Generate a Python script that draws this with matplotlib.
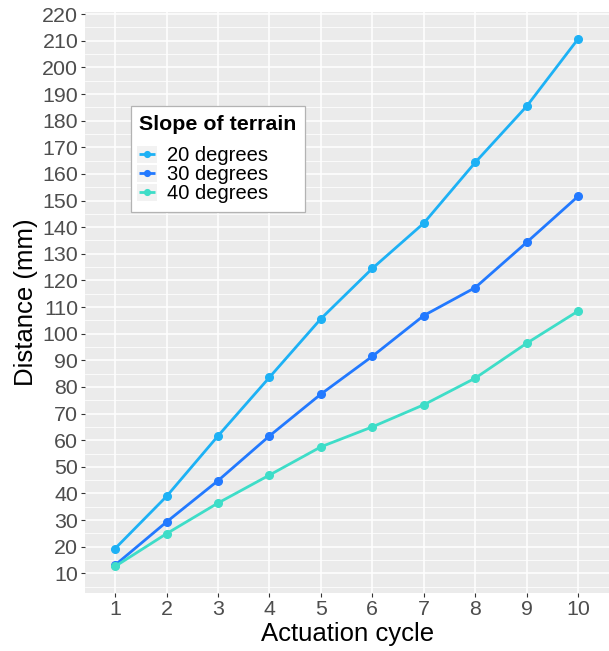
import numpy as np
import matplotlib.pyplot as plt
from matplotlib.patches import Rectangle
from matplotlib.legend_handler import HandlerLine2D

plt.rcParams['font.family'] = ['Liberation Sans', 'DejaVu Sans']

# data
cycles = [1, 2, 3, 4, 5, 6, 7, 8, 9, 10]
deg20 = [19.3, 38.9, 61.6, 83.6, 105.6, 124.5, 141.5, 164.3, 185.4, 210.7]
deg30 = [13.1, 29.3, 44.8, 61.6, 77.3, 91.5, 106.8, 117.3, 134.3, 151.6]
deg40 = [12.6, 24.9, 36.4, 46.9, 57.5, 65.0, 73.3, 83.3, 96.4, 108.5]
series_names = ["20 degrees", "30 degrees", "40 degrees"]
series_colors = ["#1DB1F5", "#2279FF", "#3EDDC8"]
y_ticks = list(range(10, 230, 10))


class KeyWithBackground(HandlerLine2D):
    """ legend key drawn on a light grey square, like ggplot """
    def create_artists(self, legend, orig_handle, xdescent, ydescent,
                       width, height, fontsize, trans):
        arts = super().create_artists(legend, orig_handle, xdescent, ydescent,
                                      width, height, fontsize, trans)
        bg = Rectangle((-xdescent - 1.5, -ydescent - 1.0), width + 3.0, height + 2.0,
                       facecolor="#F2F2F2", edgecolor="none", transform=trans)
        return [bg] + list(arts)


fig = plt.figure(figsize=(6.09, 6.51), dpi=100)
ax = fig.add_axes([0.140, 0.0886, 0.860, 0.893])
ax.set_facecolor("#EBEBEB")
for s in ax.spines.values():
    s.set_visible(False)

for vals, name, col in zip([deg20, deg30, deg40], series_names, series_colors):
    ax.plot(cycles, vals, color=col, lw=2, marker="o", ms=5.5, label=name,
            solid_capstyle="butt", zorder=3)

ax.set_xlim(0.42, 10.6)
ax.set_ylim(2.5, 220.8)
ax.set_xticks(cycles)
ax.set_yticks(y_ticks)
ax.set_yticks(np.arange(5, 225, 10), minor=True)
ax.grid(which="major", color="white", lw=1.1)
ax.grid(which="minor", axis="y", color="white", lw=0.55)
ax.set_axisbelow(True)
ax.tick_params(which="major", length=3, width=0.8, color="#333333",
               labelsize=15.4, labelcolor="#4D4D4D", pad=2)
ax.tick_params(which="minor", length=0)

ax.set_xlabel("Actuation cycle", fontsize=18.5, labelpad=2)
ax.set_ylabel("Distance (mm)", fontsize=18.5, labelpad=3)

leg = ax.legend(title="Slope of terrain", loc="upper left",
                bbox_to_anchor=(0.0867, 0.838), fontsize=14.5,
                title_fontproperties={"weight": "bold", "size": 15.4},
                frameon=True, fancybox=False, edgecolor="#B3B3B3",
                framealpha=1, handlelength=0.8, handletextpad=0.58,
                labelspacing=0.0, borderpad=0.42, borderaxespad=0,
                markerscale=0.75, handler_map={plt.Line2D: KeyWithBackground()})
leg.get_frame().set_linewidth(0.9)
leg._legend_box.align = "left"
leg._legend_box.sep = 9

fig.savefig("out.png", dpi=100)
